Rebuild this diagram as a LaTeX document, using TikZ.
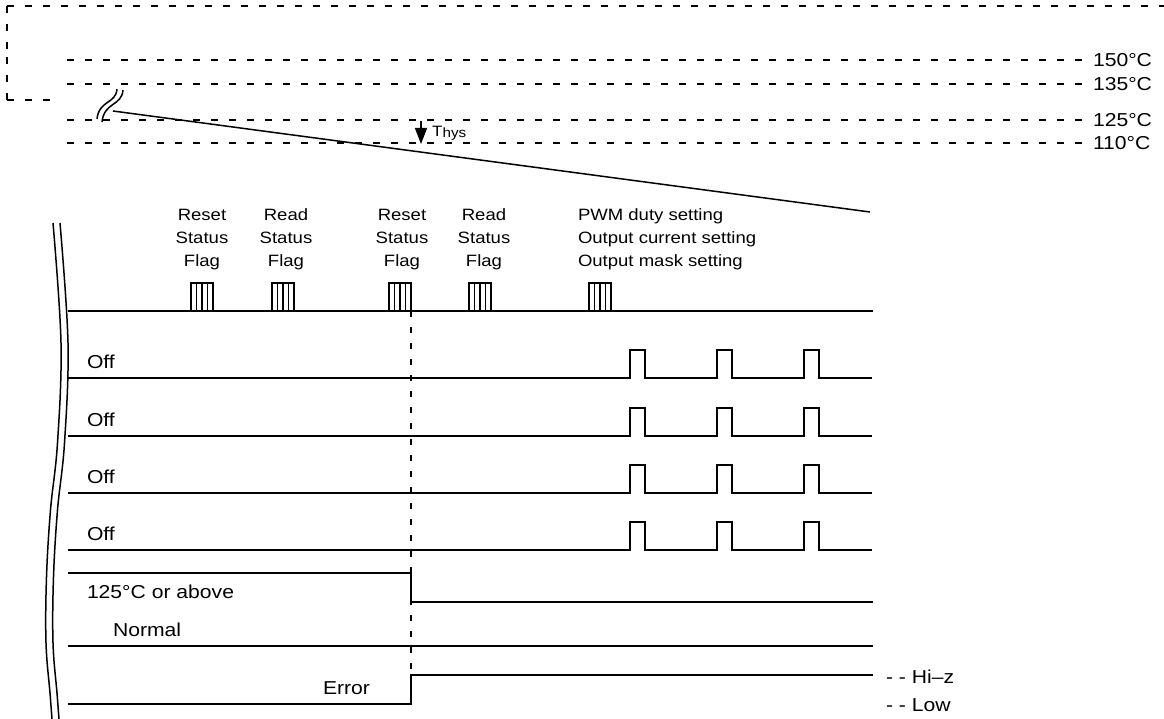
\documentclass[tikz,border=0pt]{standalone}
\usepackage{fontspec}
\setmainfont{Liberation Sans}[FakeStretch=1.13]
\usetikzlibrary{arrows.meta}
\tikzset{
  sigline/.style={line width=1.5pt, line join=miter},
  dashl/.style={line width=1.5pt, dash pattern=on 7pt off 11pt},
  vdash/.style={line width=1.5pt, dash pattern=on 6pt off 10pt},
  lbl/.style={font=\fontsize{18.7}{23}\selectfont, inner sep=0pt, outer sep=0pt},
  cmd/.style={font=\fontsize{16.4}{23}\selectfont, inner sep=0pt, outer sep=0pt},
  brk/.style={line width=1.5pt},
  flagbox/.pic={\draw[line width=1.2pt] (0,0) rectangle (22,-28);
    \foreach \k in {5.5,11,16.5}{\draw[line width=1.2pt] (\k,0) -- (\k,-28);}}
}
\begin{document}
\begin{tikzpicture}[x=1pt,y=-1pt]
\useasboundingbox (0,0) rectangle (1164,719);

% top dashed frame
\coordinate (f1) at (7,6);
\coordinate (f2) at (1164,6);
\coordinate (f3) at (7,100);
\coordinate (f4) at (57,100);
\coordinate (fm) at (7,53);
\draw[dashl] (f1) -- (f2);
\draw[dashl] (f1) -- (fm);
\draw[dashl] (f3) -- (fm);
\draw[dashl] (f3) -- (f4);

% temperature levels
\foreach \y/\t/\n in {60/150/a,84/135/b,120/125/c,143/110/d}{
  \node[lbl, anchor=west] (t\n) at (1093,\y) {\t{}°C};
  \coordinate (s\n) at (67,\y);
  \draw[dashl, shorten >=9pt] (s\n) -- (t\n.west);
}

% break symbol on the temperature curve
\draw[brk] (117,89) .. controls (116,104) and (99,100) .. (97,119);
\draw[brk] (123,90) .. controls (122,106) and (104,102) .. (102,122);

% temperature curve
\coordinate (d1) at (113,111);
\coordinate (d2) at (870,212);
\draw[sigline] (d1) -- (d2);

% hysteresis arrow
\coordinate (th1) at (421,121);
\coordinate (th2) at (421,144);
\draw[line width=1.5pt, -{Triangle[length=16pt,width=12pt]}] (th1) -- (th2);
\node[anchor=west, inner sep=0pt, font=\fontsize{15}{15}\selectfont] (thys) at (432,133)
  {T\raisebox{-1.5pt}{\fontsize{13.5}{13.5}\selectfont hys}};

% command labels
\node[cmd, align=center, anchor=north] (c1) at (202,209) {Reset\\Status\\Flag};
\node[cmd, align=center, anchor=north] (c2) at (286,209) {Read\\Status\\Flag};
\node[cmd, align=center, anchor=north] (c3) at (402,209) {Reset\\Status\\Flag};
\node[cmd, align=center, anchor=north] (c4) at (484,209) {Read\\Status\\Flag};
\node[cmd, align=left, anchor=north west] (c5) at (578,209) {PWM duty setting\\Output current setting\\Output mask setting};

% serial line with command frames
\coordinate (m1) at (68,311);
\coordinate (m2) at (873,311);
\draw[sigline] (m1) -- (m2);
\pic at (191,311) {flagbox};
\pic at (272,311) {flagbox};
\pic at (389,311) {flagbox};
\pic at (469,311) {flagbox};
\pic at (589,311) {flagbox};

% output rows
\foreach \y/\n in {378/1,436/2,493/3,550/4}{
  \node[lbl, anchor=west] (off\n) at (87,\y-16) {Off};
  \draw[sigline] (68,\y) -- (630,\y) -- (630,\y-28) -- (645,\y-28) -- (645,\y)
     -- (717,\y) -- (717,\y-28) -- (732,\y-28) -- (732,\y)
     -- (804,\y) -- (804,\y-28) -- (819,\y-28) -- (819,\y) -- (872,\y);
}

% temperature status row
\node[lbl, anchor=west] (hot) at (87,592) {125°C or above};
\draw[sigline] (68,573) -- (411,573) -- (411,602) -- (873,602);
\node[lbl, anchor=west] (norm) at (113,630) {Normal};
\draw[sigline] (68,646) -- (873,646);

% error output row
\node[lbl, anchor=west] (err) at (323,688) {Error};
\draw[sigline] (68,704) -- (411,704) -- (411,675) -- (873,675);
\node[lbl, anchor=west] (hiz) at (886,677) {- - Hi–z};
\node[lbl, anchor=west] (low) at (886,705) {- - Low};

% reset marker
\coordinate (v1) at (411,311);
\coordinate (v2) at (411,675);
\draw[vdash] (v1) -- (v2);

% left break lines
\draw[brk] plot[smooth, tension=0.6] coordinates {(53,223) (61,343) (57.5,443) (50.5,510) (46.5,577) (46,643) (50,693) (52,719)};
\draw[brk] plot[smooth, tension=0.6] coordinates {(60,223) (68,343) (64.5,443) (57.5,510) (53.5,577) (53,643) (57,693) (59,719)};
\end{tikzpicture}
\end{document}
